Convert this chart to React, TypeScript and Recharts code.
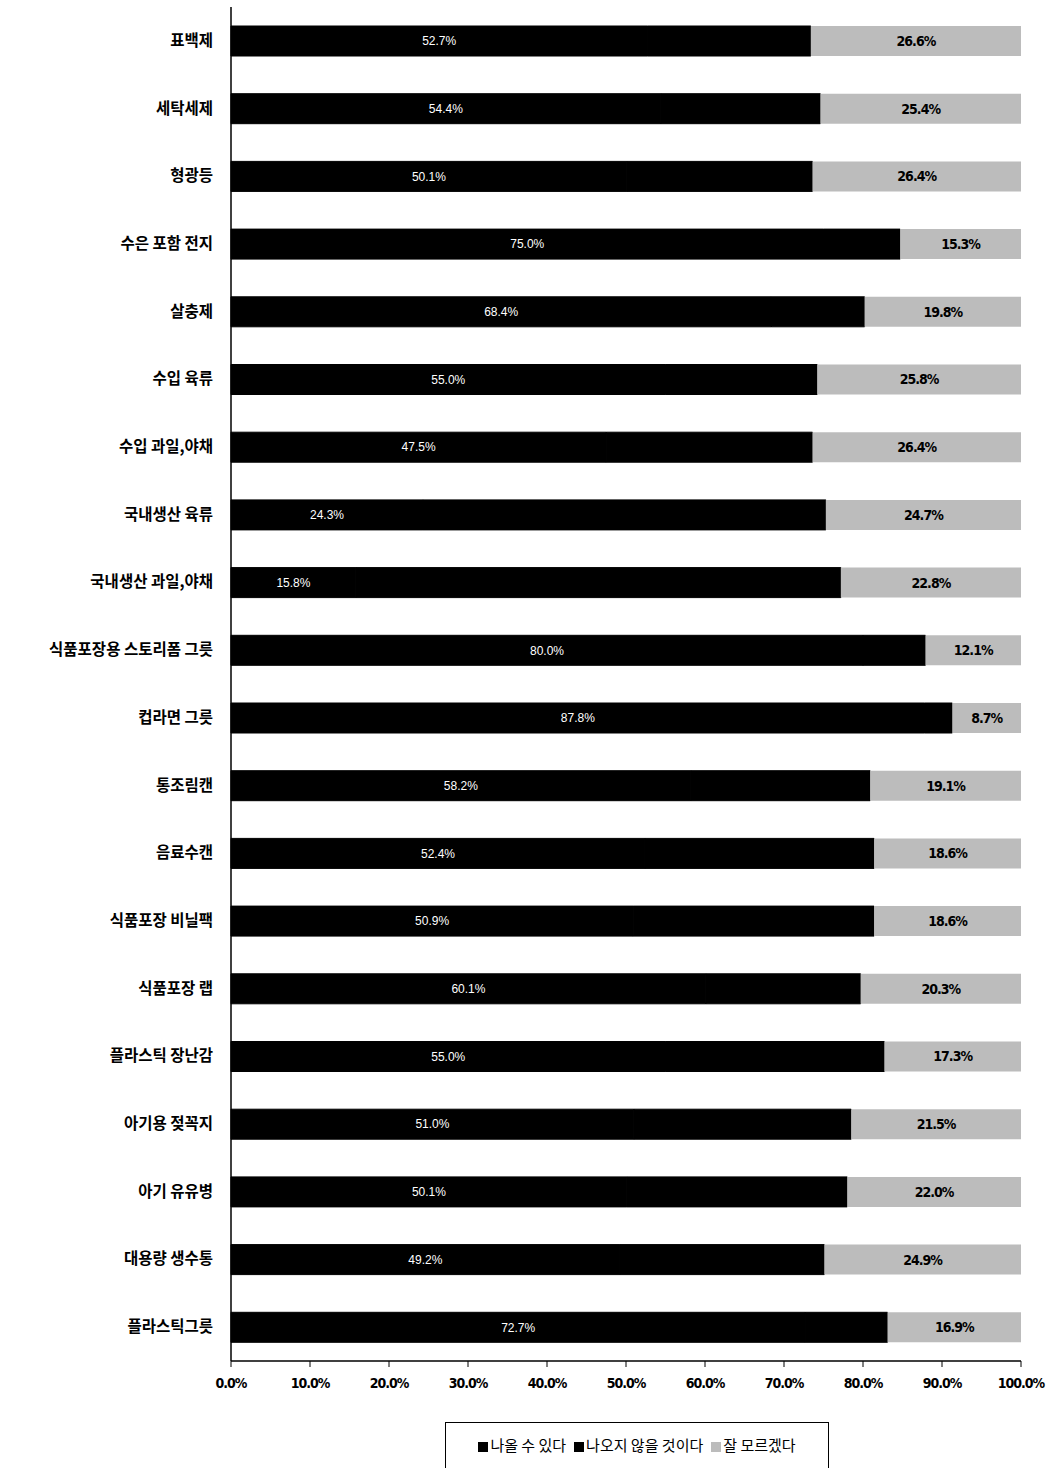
import React from 'react';
import { BarChart, Bar, XAxis, YAxis, LabelList } from 'recharts';

const categories = [
  '표백제',
  '세탁세제',
  '형광등',
  '수은 포함 전지',
  '살충제',
  '수입 육류',
  '수입 과일,야채',
  '국내생산 육류',
  '국내생산 과일,야채',
  '식품포장용 스토리폼 그릇',
  '컵라면 그릇',
  '통조림캔',
  '음료수캔',
  '식품포장 비닐팩',
  '식품포장 랩',
  '플라스틱 장난감',
  '아기용 젖꼭지',
  '아기 유유병',
  '대용량 생수통',
  '플라스틱그릇',
];

// 나올 수 있다
const canLeach = [52.7, 54.4, 50.1, 75.0, 68.4, 55.0, 47.5, 24.3, 15.8, 80.0, 87.8, 58.2, 52.4, 50.9, 60.1, 55.0, 51.0, 50.1, 49.2, 72.7];
// 잘 모르겠다
const dontKnow = [26.6, 25.4, 26.4, 15.3, 19.8, 25.8, 26.4, 24.7, 22.8, 12.1, 8.7, 19.1, 18.6, 18.6, 20.3, 17.3, 21.5, 22.0, 24.9, 16.9];

const xTicks = [0, 10, 20, 30, 40, 50, 60, 70, 80, 90, 100];

const seriesNames = ['나올 수 있다', '나오지 않을 것이다', '잘 모르겠다'];

// 나오지 않을 것이다 = remainder
const data = categories.map((name, i) => ({
  name,
  a: canLeach[i],
  b: Math.round((100 - canLeach[i] - dontKnow[i]) * 10) / 10,
  c: dontKnow[i],
}));

const GRAY = '#bcbcbc';
const pct = (v: any) => `${Number(v).toFixed(1)}%`;

const CategoryTick = (props: any) => {
  const { x, y, payload } = props;
  return (
    <text
      x={x - 2}
      y={y}
      dy={5}
      textAnchor="end"
      fontFamily="'Noto Sans CJK KR', sans-serif"
      fontWeight={700}
      fontSize={15.5}
      fill="#000"
    >
      {payload.value}
    </text>
  );
};

const PctTick = (props: any) => {
  const { x, y, payload } = props;
  return (
    <text
      x={x}
      y={y}
      dy={19}
      textAnchor="middle"
      fontFamily="'DejaVu Sans Condensed', 'DejaVu Sans', sans-serif"
      fontWeight={700}
      fontSize={14}
      letterSpacing={-1}
      fill="#000"
    >
      {pct(payload.value)}
    </text>
  );
};

function LegendBox() {
  const sq = (color: string) => (
    <span
      style={{
        display: 'inline-block',
        width: 10,
        height: 10,
        background: color,
        marginRight: 2,
        verticalAlign: 'middle',
      }}
    />
  );
  return (
    <div
      style={{
        position: 'absolute',
        left: 445,
        top: 1422,
        width: 384,
        height: 50,
        border: '1px solid #000',
        boxSizing: 'border-box',
        fontFamily: "'Noto Sans CJK KR', sans-serif",
        fontSize: 15,
        paddingTop: 11,
        textAlign: 'center',
        color: '#000',
      }}
    >
      {sq('#000')}
      {seriesNames[0]}
      <span style={{ marginLeft: 8 }} />
      {sq('#000')}
      {seriesNames[1]}
      <span style={{ marginLeft: 8 }} />
      {sq(GRAY)}
      {seriesNames[2]}
    </div>
  );
}

export default function App() {
  return (
    <div style={{ position: 'absolute', left: 0, top: 0, width: 1062, height: 1468, background: '#fff', overflow: 'hidden' }}>
      <BarChart
        width={1062}
        height={1400}
        data={data}
        layout="vertical"
        margin={{ top: 7, right: 41, left: 0, bottom: 9 }}
        barCategoryGap={0}
      >
        <XAxis
          type="number"
          domain={[0, 100]}
          ticks={xTicks}
          interval={0}
          height={30}
          tick={<PctTick />}
          tickSize={6}
          stroke="#000"
          axisLine={{ stroke: '#000', strokeWidth: 1.5 }}
          tickLine={{ stroke: '#000' }}
        />
        <YAxis
          type="category"
          dataKey="name"
          width={231}
          tick={<CategoryTick />}
          tickLine={false}
          tickSize={14}
          axisLine={{ stroke: '#000', strokeWidth: 1.5 }}
          interval={0}
        />
        <Bar dataKey="a" stackId="s" fill="#000" stroke="#000" strokeWidth={1} barSize={30} isAnimationActive={false}>
          <LabelList
            dataKey="a"
            position="center"
            formatter={pct}
            fill="#fff"
            stroke="none"
            fontSize={12}
            fontFamily="'Liberation Sans', Arial, sans-serif"
          />
        </Bar>
        <Bar dataKey="b" stackId="s" fill="#000" stroke="#000" strokeWidth={1} barSize={30} isAnimationActive={false} />
        <Bar dataKey="c" stackId="s" fill={GRAY} barSize={30} isAnimationActive={false}>
          <LabelList
            dataKey="c"
            position="center"
            formatter={pct}
            fill="#000"
            fontSize={14}
            fontWeight={700}
            letterSpacing={-1}
            fontFamily="'DejaVu Sans Condensed', 'DejaVu Sans', sans-serif"
          />
        </Bar>
      </BarChart>
      <LegendBox />
    </div>
  );
}
